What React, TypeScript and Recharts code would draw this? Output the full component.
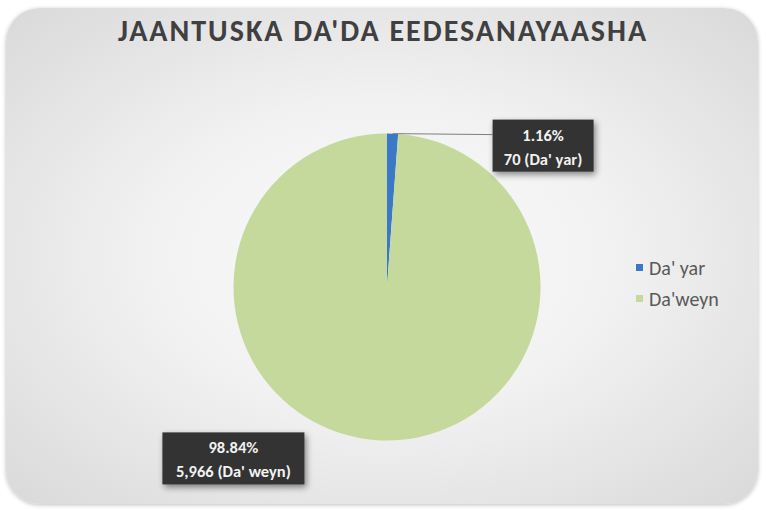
import React from 'react'
import { PieChart, Pie, Cell, Legend } from 'recharts'

const categories = ["Da' yar", "Da'weyn"]
const labelNames = ["Da' yar", "Da' weyn"]
const counts = [70, 5966]
const sliceColors = ['#3b78c8', '#c4d99b']

const pieData = categories.map((name, i) => ({ name, value: counts[i], labelName: labelNames[i] }))
const total = counts.reduce((a, b) => a + b, 0)

const FONT = "Carlito, Lato, 'Open Sans', sans-serif"
const RAD = Math.PI / 180

// box offsets relative to the slice edge point
const boxOffsets = [
  { dx: 100, dy: -14, w: 101, h: 52, line: true },
  { dx: -219, dy: -8, w: 142, h: 52, line: false },
]

function renderLabel(props: any) {
  const { cx, cy, midAngle, outerRadius, index, value, payload } = props
  const px = cx + outerRadius * Math.cos(-midAngle * RAD)
  const py = cy + outerRadius * Math.sin(-midAngle * RAD)
  const o = boxOffsets[index]
  const bx = px + o.dx
  const by = py + o.dy
  const pct = ((value / total) * 100).toFixed(2) + '%'
  const txt = value.toLocaleString('en-US') + ' (' + payload.labelName + ')'
  return (
    <g>
      {o.line && <line x1={px} y1={py} x2={bx} y2={py + 1} stroke="#7f7f7f" strokeWidth={1} />}
      <rect x={bx} y={by} width={o.w} height={o.h} fill="#333333" style={{ filter: 'drop-shadow(2px 3px 3px rgba(0,0,0,0.45))' }} />
      <text x={bx + o.w / 2} y={by + 21} textAnchor="middle" fill="#f2f2f2" fontSize={16.5} fontWeight="bold" fontFamily={FONT}>{pct}</text>
      <text x={bx + o.w / 2} y={by + 45} textAnchor="middle" fill="#f2f2f2" fontSize={16.5} fontWeight="bold" fontFamily={FONT}>{txt}</text>
    </g>
  )
}

function renderLegend(props: any) {
  const { payload } = props
  return (
    <div style={{ fontFamily: FONT, fontSize: 20, color: '#595959' }}>
      {payload.map((p: any, i: number) => (
        <div key={i} style={{ display: 'flex', alignItems: 'center', height: 31 }}>
          <span style={{ display: 'inline-block', width: 7, height: 7, background: p.color, marginRight: 6 }} />
          <span>{p.value}</span>
        </div>
      ))}
    </div>
  )
}

export default function App() {
  return (
    <div style={{ position: 'fixed', left: 0, top: 0, width: 766, height: 510, background: '#ffffff', overflow: 'hidden' }}>
      <div
        style={{
          position: 'absolute', left: 6, top: 8, width: 752, height: 496, borderRadius: 34,
          background: 'radial-gradient(ellipse at 50% 50%, #fbfbfb 0%, #f1f1f1 45%, #d9d9d9 100%)',
          boxShadow: '0 1px 4px rgba(0,0,0,0.25)',
        }}
      />
      <div
        style={{
          position: 'absolute', left: 0, top: 12, width: 766, textAlign: 'center',
          fontFamily: FONT, fontWeight: 'bold', fontSize: 30, color: '#404040', letterSpacing: 2,
        }}
      >
        JAANTUSKA DA'DA EEDESANAYAASHA
      </div>
      <div style={{ position: 'absolute', left: 0, top: 0 }}>
        <PieChart width={766} height={510}>
          <Pie
            data={pieData}
            dataKey="value"
            nameKey="name"
            cx={382}
            cy={282}
            outerRadius={153.5}
            startAngle={90}
            endAngle={-270}
            stroke="none"
            label={renderLabel}
            labelLine={false}
            isAnimationActive={false}
          >
            {pieData.map((d, i) => (
              <Cell key={d.name} fill={sliceColors[i]} />
            ))}
          </Pie>
          <Legend
            layout="vertical"
            content={renderLegend}
            wrapperStyle={{ left: 636, top: 252, width: 120 }}
          />
        </PieChart>
      </div>
    </div>
  )
}
